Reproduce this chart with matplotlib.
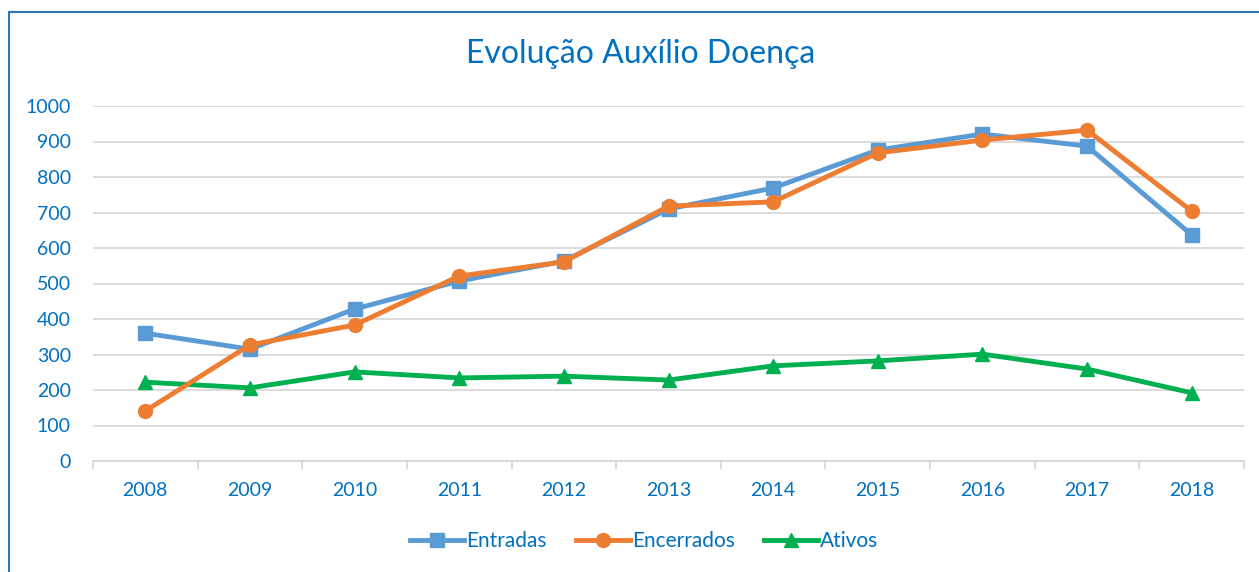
import matplotlib
matplotlib.use("Agg")
import matplotlib.pyplot as plt
from matplotlib.patches import Rectangle

anos = ["2008", "2009", "2010", "2011", "2012", "2013", "2014", "2015", "2016", "2017", "2018"]
entradas = [360, 315, 428, 507, 563, 710, 769, 876, 921, 887, 637]
encerrados = [141, 327, 383, 521, 561, 718, 730, 868, 904, 932, 704]
ativos = [222, 206, 251, 234, 239, 228, 268, 282, 301, 259, 192]

AZUL_TXT = "#0070C0"
CINZA = "#D9D9D9"

plt.rcParams["font.family"] = ["Lato", "DejaVu Sans"]

fig = plt.figure(figsize=(12.59, 5.72), dpi=100)
ax = fig.add_axes([93 / 1259, 1 - 461 / 572, (1244 - 93) / 1259, (461 - 106) / 572])

x = list(range(len(anos)))
ax.plot(x, entradas, color="#5B9BD5", lw=3.5, marker="s", ms=9.5, label="Entradas", zorder=3)
ax.plot(x, encerrados, color="#ED7D31", lw=3.5, marker="o", ms=10, label="Encerrados", zorder=4)
ax.plot(x, ativos, color="#00B050", lw=3.5, marker="^", ms=9.5, label="Ativos", zorder=3)

ax.set_xlim(-0.5, len(anos) - 0.5)
ax.set_ylim(0, 1000)
ax.set_yticks(range(0, 1001, 100))
ax.set_xticks(x)
ax.set_xticklabels(anos)
ax.set_xticks([i - 0.5 for i in range(len(anos) + 1)], minor=True)
ax.grid(axis="y", color=CINZA, lw=1.3)
ax.set_axisbelow(True)
for s in ["top", "right", "left"]:
    ax.spines[s].set_visible(False)
ax.spines["bottom"].set_color(CINZA)
ax.spines["bottom"].set_linewidth(1.3)
ax.tick_params(axis="x", which="major", length=0, pad=15, labelsize=14, labelcolor=AZUL_TXT)
ax.tick_params(axis="x", which="minor", length=6, width=1.3, color=CINZA)
ax.tick_params(axis="y", length=0, pad=16, labelsize=14, labelcolor=AZUL_TXT)

fig.text(641 / 1259, 1 - 54 / 572, "Evolução Auxílio Doença", ha="center", va="center",
         fontsize=23, color=AZUL_TXT)

leg = fig.legend(loc="center", bbox_to_anchor=(644 / 1259, 1 - 541 / 572), ncol=3,
                 frameon=False, fontsize=15, handlelength=2.6, handletextpad=0.1,
                 columnspacing=1.4, labelcolor=AZUL_TXT)

fig.patches.append(Rectangle((9 / 1259, -0.05), 1.1, 1 - 12 / 572 + 0.05, transform=fig.transFigure,
                             fill=False, edgecolor="#2E75B6", lw=1.5))

fig.savefig("out.png", dpi=100)
